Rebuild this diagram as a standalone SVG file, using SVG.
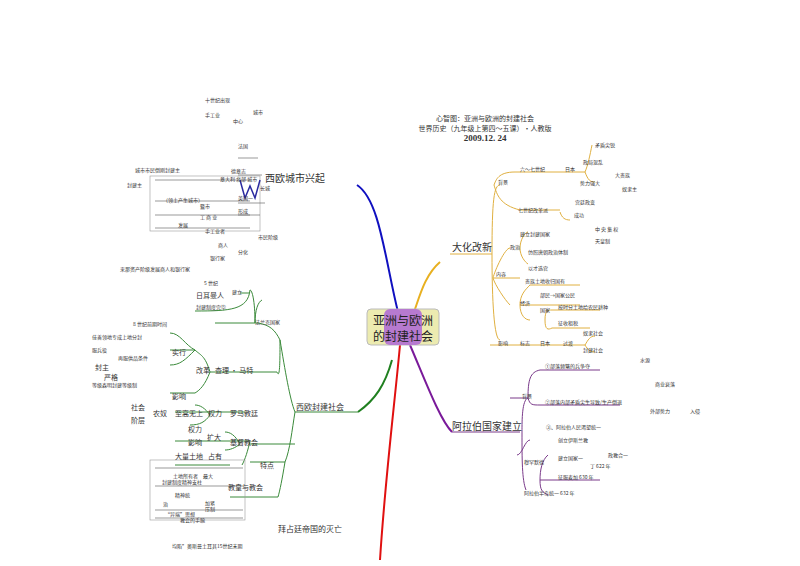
<svg xmlns="http://www.w3.org/2000/svg" width="800" height="566" viewBox="0 0 800 566">
<style>
text{font-family:"Noto Sans CJK SC","Liberation Serif",serif;fill:#333}
.s{font-size:5px}
.m{font-size:7px}
.b{font-size:10px}
.g{fill:none;stroke:#3a8a3a;stroke-width:1}
.o{fill:none;stroke:#e0b040;stroke-width:1}
.p{fill:none;stroke:#7a3a8a;stroke-width:1}
.u{stroke:#555;stroke-width:0.6}
</style>
<rect width="800" height="566" fill="#fff"/>
<g id="title">
<text x="485" y="121" class="m" text-anchor="middle">心智图：亚洲与欧洲的封建社会</text>
<text x="485" y="131" class="m" text-anchor="middle">世界历史（九年级上第四～五课）•人教版</text>
<text x="485" y="141" style="font-family:'Liberation Serif',serif;font-size:9px;font-weight:bold" text-anchor="middle">2009.12. 24</text>
</g>
<g id="connectors">
<path d="M357,185 C380,200 385,260 398,312" stroke="#1010c0" stroke-width="2" fill="none"/>
<path d="M440,262 C425,275 420,295 414,312" stroke="#e8b020" stroke-width="2" fill="none"/>
<path d="M358,412 C375,400 385,385 392,360" stroke="#208020" stroke-width="2" fill="none"/>
<path d="M400,345 C395,400 385,480 380,560" stroke="#e01010" stroke-width="2" fill="none"/>
<path d="M410,345 C425,380 440,420 452,432" stroke="#7a1a9a" stroke-width="2" fill="none"/>
<path class="o" d="M450,254 H492 M492,254 C492,200 494,185 500,185 M492,254 C492,300 494,340 500,340"/>
<path class="o" d="M494,185 C496,180 498,172 515,172 H585 M494,185 C497,195 500,205 520,210 H560"/>
<path class="o" d="M493,278 C495,270 505,248 510,248 M493,278 C495,285 505,300 510,305 M493,278 H520"/>
<path class="o" d="M520,248 C520,240 525,232 528,232 M520,248 C520,256 525,262 528,264 M520,305 C520,295 525,290 530,285 H580 M520,305 H580 M520,305 C520,315 525,320 530,320"/>
<path class="o" d="M545,320 C545,310 548,310 552,310 H600 M545,320 C545,330 548,330 552,328 H590"/>
<path class="o" d="M490,345 H585 M585,345 C588,340 590,336 595,336 M585,345 C588,350 590,352 595,352"/>
<path class="o" d="M585,172 C588,165 590,155 592,145 M585,172 C588,180 590,182 595,182 M560,212 C562,218 565,220 570,220"/>
<path class="p" d="M452,432 H520 M522,432 C522,420 522,400 528,398 M522,432 C522,460 522,480 526,490 M528,398 H510 M528,398 C528,380 530,372 540,370 H600 M528,398 C530,405 532,405 540,405 H620"/>
<path class="p" d="M517,455 C522,455 525,440 530,440 M540,480 C540,470 542,460 548,455 M540,480 H600 M540,480 C540,490 542,492 548,495"/>
<path class="g" d="M358,412 H295 M295,412 C290,400 285,370 280,340 M280,340 C275,330 270,325 258,323 H215 M280,340 C280,360 280,380 277,372 H240"/>
<path class="g" d="M255,323 C255,300 252,290 250,290 M255,323 C255,310 258,302 262,300 M250,293 H240 M250,290 C248,310 230,311 195,311"/>
<path class="g" d="M240,372 H210 M210,372 C205,355 200,355 195,350 H170 M210,372 C205,385 200,390 195,393 H170 M195,350 C185,345 180,333 170,333 M195,350 C185,360 180,365 170,365"/>
<path class="g" d="M295,412 C292,430 290,450 285,462 M285,462 H250 M285,462 C282,480 280,490 278,497 H230 M250,441 H175 M250,441 C248,450 245,460 242,465"/>
<path class="g" d="M210,415 C205,408 200,405 195,405 M210,415 C205,422 200,425 190,425 M245,412 H175 M240,444 C235,435 230,432 225,432 M240,444 C235,448 230,450 225,450"/>
<path class="g" d="M230,465 H175 M250,444 H295"/>
<rect x="150" y="176" width="110" height="55" fill="none" stroke="#999" stroke-width="0.6"/>
<rect x="150" y="460" width="95" height="60" fill="none" stroke="#999" stroke-width="0.6"/>
<path class="u" d="M155,180 H250 M155,201 H250 M155,215 H250 M155,228 H250 M238,158 H258 M238,175 H262 M238,203 H265 M238,215 H260 M155,468 H243 M155,486 H243 M155,510 H243 M155,518 H243"/>
<path d="M240,180 L245,198 L250,186 L255,198 L260,180" stroke="#2a2aa0" stroke-width="1.5" fill="none"/>
</g>
<g id="center">
<rect x="367" y="309" width="72" height="36" rx="4" fill="#ecebb0" stroke="#bbb"/>
<rect x="384" y="309" width="38" height="36" rx="6" fill="#b77ad0"/>
<text x="403" y="325" text-anchor="middle" style="font-size:12px;fill:#222">亚洲与欧洲</text>
<text x="403" y="341" text-anchor="middle" style="font-size:12px;fill:#222">的封建社会</text>
</g>
<g id="n-west-city">
<text x="265" y="182" class="b">西欧城市兴起</text>
<text x="205" y="102" class="s">十世纪出现</text><text x="205" y="117" class="s">手工业</text><text x="253" y="114" class="s">城市</text><text x="233" y="123" class="s">中心</text>
<text x="238" y="148" class="s">法国</text><text x="231" y="173" class="s">德意志</text><text x="220" y="181" class="s">意大利 北部 城市</text><text x="260" y="190" class="s">长城</text>
<text x="238" y="200" class="s">英国一</text><text x="238" y="213" class="s">形成</text><text x="258" y="239" class="s">市民阶级</text>
<text x="218" y="247" class="s">商人</text><text x="238" y="254" class="s">分化</text><text x="210" y="260" class="s">银行家</text>
<text x="135" y="172" class="s">城市市民倒刚封建主</text><text x="127" y="187" class="s">封建主</text>
<text x="163" y="202" class="s">（领土产生城市）</text><text x="200" y="208" class="s">暨市</text><text x="200" y="219" class="s">工 商 业</text>
<text x="178" y="227" class="s">发展</text><text x="205" y="233" class="s">手工业者</text>
<text x="120" y="271" class="s">来那资产阶级发展商人和银行家</text>
</g>
<g id="n-west-feudal">
<text x="296" y="410" class="m" style="font-size:8px">西欧封建社会</text>
<text x="255" y="324" class="s">法兰克国家</text>
<text x="204" y="285" class="s">5 世纪</text><text x="196" y="298" class="m">日耳曼人</text><text x="232" y="294" class="s">建立</text>
<text x="196" y="309" class="s">封建制度完毕</text>
<text x="133" y="326" class="s">8 世纪前期时间</text><text x="92" y="339" class="s">佳善领地专成上地分封</text>
<text x="172" y="355" class="m">实行</text><text x="92" y="352" class="s">服兵役</text><text x="118" y="360" class="s">再服供品条件</text>
<text x="95" y="370" class="m">封主</text><text x="104" y="380" class="m">严格</text><text x="92" y="387" class="s">等级森明封建等级制</text>
<text x="196" y="373" class="m">改革</text><text x="215" y="373" class="m">查理 • 马特</text>
<text x="172" y="399" class="m">影响</text>
<text x="131" y="410" class="m">社会</text><text x="153" y="416" class="m">农奴</text><text x="131" y="423" class="m">阶层</text>
<text x="175" y="416" class="m">至高无上</text><text x="208" y="416" class="m">权力</text><text x="230" y="416" class="m">罗马教廷</text>
<text x="188" y="432" class="m">权力</text><text x="207" y="440" class="m">扩大</text><text x="188" y="445" class="m">影响</text>
<text x="230" y="445" class="m">基督教会</text>
<text x="175" y="459" class="m">大量土地</text><text x="208" y="459" class="m">占有</text>
<text x="260" y="468" class="m">特点</text>
<text x="173" y="478" class="s">土地所有者</text><text x="203" y="478" class="s">最大</text>
<text x="162" y="484" class="s">封建制度精神支柱</text><text x="175" y="497" class="s">精神统</text><text x="163" y="506" class="s">治</text>
<text x="205" y="505" class="s">加紧</text><text x="205" y="511" class="s">压制</text>
<text x="165" y="516" class="s">“异端”思想</text><text x="180" y="522" class="s">教会的手腕</text>
<text x="228" y="490" class="m">教皇与教会</text>
<text x="278" y="532" class="m" style="font-size:8px">拜占廷帝国的灭亡</text>
<text x="172" y="548" class="s">均陷”奥斯曼土耳其15世纪末期</text>
</g>
<g id="n-taika">
<text x="452" y="251" class="b">大化改新</text>
<text x="498" y="184" class="s">背景</text><text x="520" y="171" class="s">六～七世纪</text><text x="565" y="171" class="s">日本</text>
<text x="595" y="147" class="s">矛盾尖锐</text><text x="583" y="164" class="s">政局混乱</text><text x="615" y="177" class="s">大贵族</text>
<text x="580" y="185" class="s">势力强大</text><text x="622" y="191" class="s">奴隶主</text>
<text x="518" y="212" class="s">七世纪改革派</text><text x="575" y="204" class="s">宫廷政变</text><text x="574" y="217" class="s">成功</text>
<text x="595" y="231" class="s">中 央 集 权</text><text x="595" y="243" class="s">天皇制</text>
<text x="520" y="236" class="s">建立封建国家</text><text x="510" y="249" class="s">政治</text><text x="528" y="254" class="s">仿照唐朝政治体制</text>
<text x="528" y="270" class="s">以才选官</text><text x="496" y="276" class="s">内容</text>
<text x="525" y="283" class="s">贵族土地收归国有</text><text x="540" y="297" class="s">部民→国家公民</text>
<text x="520" y="305" class="s">经济</text><text x="540" y="312" class="s">国家</text><text x="558" y="309" class="s">按时分土地给农民耕种</text>
<text x="558" y="325" class="s">征收租税</text><text x="583" y="335" class="s">奴隶社会</text>
<text x="498" y="345" class="s">影响</text><text x="520" y="345" class="s">标志</text><text x="540" y="345" class="s">日本</text><text x="563" y="345" class="s">过渡</text>
<text x="583" y="352" class="s">封建社会</text>
</g>
<g id="n-arab">
<text x="452" y="430" class="b">阿拉伯国家建立</text>
<text x="522" y="398" class="s">背景</text>
<text x="545" y="368" class="s">①部落频繁的兵争夺</text><text x="545" y="404" class="s">②部落内部矛盾尖生导致/生产倒退</text>
<text x="546" y="429" class="s">③、阿拉伯人民渴望统一</text>
<text x="558" y="442" class="s">创立伊斯兰教</text><text x="524" y="464" class="s">穆罕默德</text>
<text x="558" y="460" class="s">建立国家一</text><text x="608" y="457" class="s">政教合一</text>
<text x="590" y="468" class="s">丁 622 年</text><text x="558" y="479" class="s">征服麦加 630 年</text>
<text x="524" y="495" class="s">阿拉伯半岛统一 632 年</text>
<text x="640" y="362" class="s">水源</text><text x="655" y="386" class="s">商业衰落</text>
<text x="650" y="413" class="s">外部势力</text><text x="690" y="413" class="s">入侵</text>
</g>
</svg>
